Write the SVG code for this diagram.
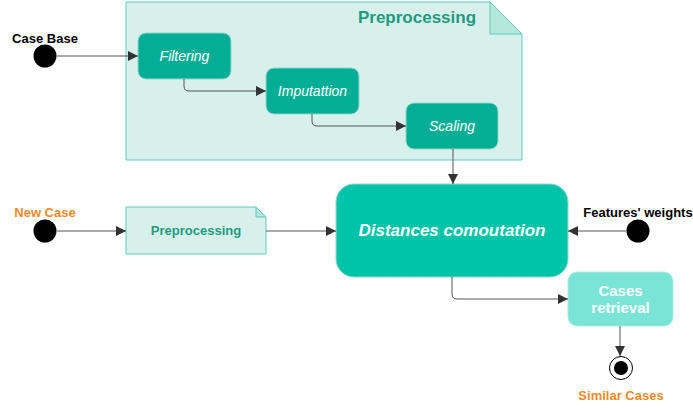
<svg xmlns="http://www.w3.org/2000/svg" width="693" height="409" viewBox="0 0 693 409">
<style>
text{font-family:"Liberation Sans",Arial,sans-serif}
.step{fill:#04ae96;stroke:#8fd9cb;stroke-width:1}
.stept{fill:#fff;font-size:14px;font-style:italic;text-anchor:middle}
.note{fill:#d7f0ec;stroke:#5fcbb9;stroke-width:1}
.fold{fill:#b4e8df;stroke:#5fcbb9;stroke-width:1}
.lbl{font-size:13px;font-weight:bold;text-anchor:middle}
.big{font-size:15px}
.c{fill:none;stroke:#555;stroke-width:1}
</style>
<defs>
<marker id="ah" viewBox="0 0 10 10" refX="10" refY="5" markerWidth="12" markerHeight="10" markerUnits="userSpaceOnUse" orient="auto">
<path d="M0,0L10,5L0,10z" fill="#333"/>
</marker>
</defs>
<g id="preprocessing-group">
<path class="note" d="M126,2H490L522,34V160H126Z"/>
<path class="fold" d="M490,2V34H522Z"/>
<text x="417" y="23" font-size="17" font-weight="bold" fill="#1e9c80" text-anchor="middle">Preprocessing</text>
</g>
<g id="filtering"><rect class="step" x="138" y="33" width="93" height="46" rx="8"/><text class="stept" x="184.5" y="61">Filtering</text></g>
<g id="imputation"><rect class="step" x="266" y="68" width="93" height="46" rx="8"/><text class="stept" x="312.5" y="96">Imputattion</text></g>
<g id="scaling"><rect class="step" x="406" y="103" width="92" height="46" rx="8"/><text class="stept" x="452" y="131">Scaling</text></g>
<g id="case-base"><circle cx="45" cy="56" r="11.5" fill="#000"/><text class="lbl" x="45" y="43" fill="#000">Case Base</text></g>
<g id="new-case"><circle cx="45" cy="231" r="11.5" fill="#000"/><text class="lbl" x="45" y="217" fill="#ef8a2a">New Case</text></g>
<g id="preprocessing-small">
<path class="note" d="M126,207H256L266,217V254H126Z"/>
<path class="fold" d="M256,207V217H266Z"/>
<text class="lbl" x="196" y="235" fill="#1e9c80">Preprocessing</text>
</g>
<g id="distances"><rect x="336" y="184" width="232" height="93" rx="18" fill="#00c4a7" stroke="#8fd9cb" stroke-width="1"/><text x="452" y="236" font-size="17" font-weight="bold" font-style="italic" fill="#fff" text-anchor="middle">Distances comoutation</text></g>
<g id="features-weights"><circle cx="638" cy="231" r="11.5" fill="#000"/><text class="lbl" x="638" y="217" fill="#000">Features' weights</text></g>
<g id="cases-retrieval"><rect x="568" y="272" width="105" height="54" rx="9" fill="#7ae5d6" stroke="#a9ece2" stroke-width="1"/><text class="lbl big" x="620.5" y="295.5" fill="#fff">Cases</text><text class="lbl big" x="620.5" y="312.5" fill="#fff">retrieval</text></g>
<g id="similar-cases"><circle cx="621" cy="368" r="11.5" fill="#fff" stroke="#000" stroke-width="1"/><circle cx="621" cy="368" r="7" fill="#000"/><text class="lbl" x="621" y="400" fill="#ef8a2a">Similar Cases</text></g>
<g id="connectors">
<path class="c" d="M57,56H138" marker-end="url(#ah)"/>
<path class="c" d="M184,79V86Q184,91 189,91H266" marker-end="url(#ah)"/>
<path class="c" d="M312,114V121Q312,126 317,126H406" marker-end="url(#ah)"/>
<path class="c" d="M453,149V184" marker-end="url(#ah)"/>
<path class="c" d="M57,231H126" marker-end="url(#ah)"/>
<path class="c" d="M266,231H336" marker-end="url(#ah)"/>
<path class="c" d="M626,231H568" marker-end="url(#ah)"/>
<path class="c" d="M452,277V294Q452,299 457,299H568" marker-end="url(#ah)"/>
<path class="c" d="M620,326V356" marker-end="url(#ah)"/>
</g>
</svg>
